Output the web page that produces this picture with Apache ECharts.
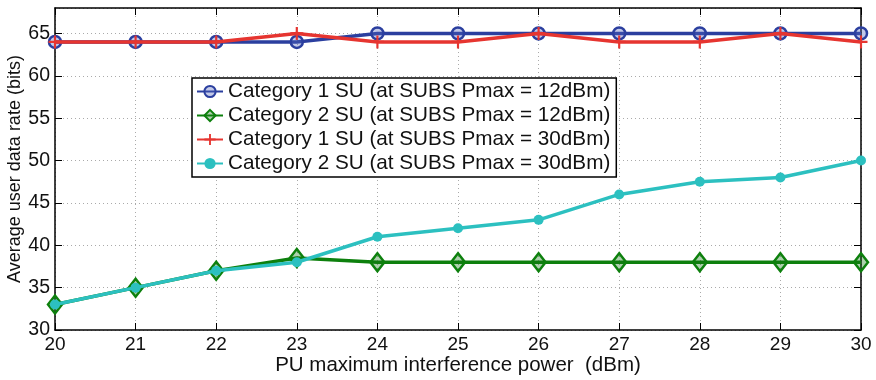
<!DOCTYPE html>
<html><head><meta charset="utf-8">
<script src="https://cdn.jsdelivr.net/npm/echarts@6/dist/echarts.min.js"></script>
<style>html,body{margin:0;padding:0;background:#fff}#c{width:876px;height:380px}</style>
</head><body><div id="c"></div>
<script>
const xValues = [20,21,22,23,24,25,26,27,28,29,30];
const cat1_12 = [64,64,64,64,65,65,65,65,65,65,65];
const cat2_12 = [33,35,37,38.5,38,38,38,38,38,38,38];
const cat1_30 = [64,64,64,65,64,64,65,64,64,65,64];
const cat2_30 = [33,35,37,38,41,42,43,46,47.5,48,50];
const names = [
  'Category 1 SU (at SUBS Pmax = 12dBm)',
  'Category 2 SU (at SUBS Pmax = 12dBm)',
  'Category 1 SU (at SUBS Pmax = 30dBm)',
  'Category 2 SU (at SUBS Pmax = 30dBm)'
];
const pair = a => xValues.map((x,i)=>[x,a[i]]);
const font = 'Liberation Sans, Arial, Helvetica, sans-serif';
const chart = echarts.init(document.getElementById('c'));
const axisCommon = {
  axisLine:{show:true,onZero:false,lineStyle:{color:'#000',width:1.5}},
  axisTick:{show:true,inside:true,length:7,lineStyle:{color:'#000',width:1}},
};
chart.setOption({
  animation:false,
  grid:{left:55,right:15,top:8,bottom:50,containLabel:false,outerBoundsMode:'none'},
  legend:{
    orient:'vertical',left:192,top:78,
    backgroundColor:'#fff',borderColor:'#000',borderWidth:1.5,
    padding:[3,6,3,4],itemGap:3,itemWidth:26,itemHeight:14,
    textStyle:{fontSize:20.7,fontFamily:font,color:'#111'},
    data:names
  },
  xAxis:[{
    type:'value',min:20,max:30,interval:1,
    ...axisCommon,
    splitLine:{show:true,lineStyle:{color:'#aaa',type:[1,3],width:1}},
    axisLabel:{fontSize:19,fontFamily:font,color:'#111',margin:5},
    name:'PU maximum interference power  (dBm)',nameLocation:'middle',nameGap:25,nameMoveOverlap:false,
    nameTextStyle:{fontSize:20.5,fontFamily:font,color:'#111'}
  },{
    type:'value',min:20,max:30,interval:1,position:'top',
    ...axisCommon,axisLabel:{show:false},splitLine:{show:false}
  }],
  yAxis:[{
    type:'value',min:30,max:68,interval:5,
    ...axisCommon,
    splitLine:{show:true,lineStyle:{color:'#aaa',type:[1,3],width:1}},
    axisLabel:{fontSize:19.5,fontFamily:font,color:'#111',margin:5,showMaxLabel:false},
    name:'Average user data rate (bits)',nameLocation:'middle',nameGap:31,nameMoveOverlap:false,
    nameTextStyle:{fontSize:18,fontFamily:font,color:'#111'}
  },{
    type:'value',min:30,max:68,interval:5,position:'right',
    ...axisCommon,axisLabel:{show:false},splitLine:{show:false}
  }],
  series:[
    {name:names[0],type:'line',data:pair(cat1_12),symbol:'circle',symbolSize:12,
     lineStyle:{color:'#2b3f9f',width:3.5},
     itemStyle:{color:'rgba(80,100,190,0.35)',borderColor:'#2b3f9f',borderWidth:2.5},z:3},
    {name:names[1],type:'line',data:pair(cat2_12),symbol:'diamond',symbolSize:[14,18],
     lineStyle:{color:'#0d800d',width:3.5},
     itemStyle:{color:'rgba(20,120,20,0.35)',borderColor:'#0d800d',borderWidth:2.5},z:3},
    {name:names[2],type:'line',data:pair(cat1_30),symbol:'path://M-1,-6h2v5h5v2h-5v5h-2v-5h-5v-2h5z',symbolSize:13,
     lineStyle:{color:'#e63530',width:3.5},
     itemStyle:{color:'#e63530',borderWidth:0},z:4},
    {name:names[3],type:'line',data:pair(cat2_30),symbol:'circle',symbolSize:10,
     lineStyle:{color:'#2cc0c0',width:3.5},
     itemStyle:{color:'#2cc0c0',borderWidth:0},z:5}
  ]
});
</script></body></html>
